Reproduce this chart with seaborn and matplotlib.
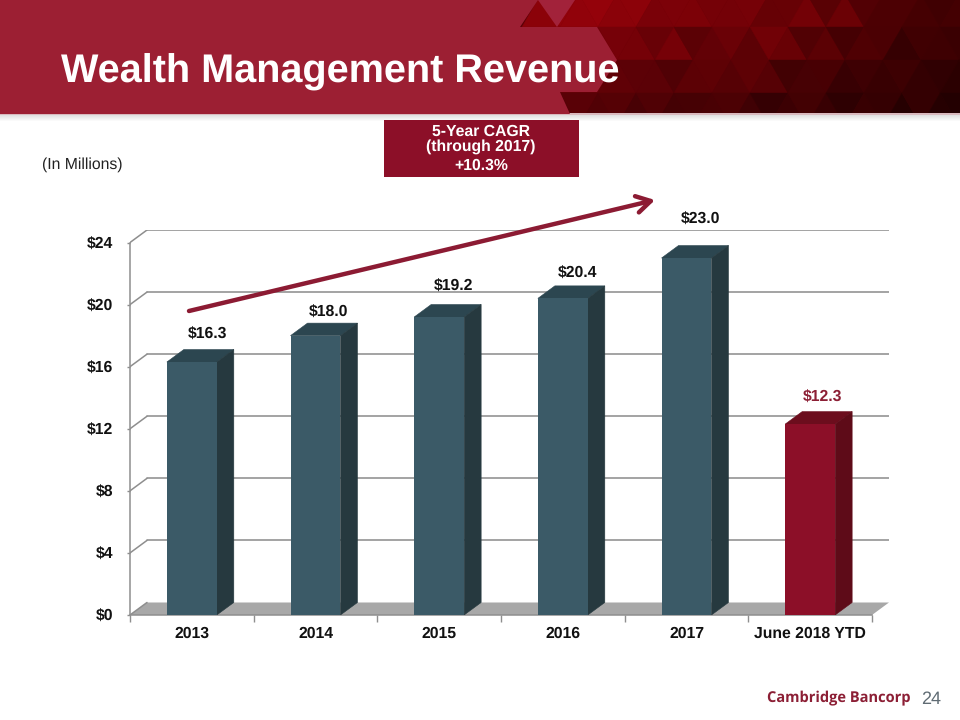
import numpy as np
import pandas as pd
import seaborn as sns
import matplotlib.pyplot as plt
from matplotlib.patches import Polygon, Rectangle

categories = ['2013', '2014', '2015', '2016', '2017', 'June 2018 YTD']
revenue = [16.3, 18.0, 19.2, 20.4, 23.0, 12.3]
value_labels = ['$16.3', '$18.0', '$19.2', '$20.4', '$23.0', '$12.3']
y_ticks = [0, 4, 8, 12, 16, 20, 24]

# separacion de cada etiqueta respecto a la barra (px)
label_dx = [16, 13, 14, 15, 14, 12]
label_dy = [15, 10, 18, 12, 26, 14]

BLUE = ('#3B5A67', '#2C4650', '#26393F')
RED = ('#8C0F28', '#6C0D1D', '#5E0B18')
CRIMSON = '#9C1F33'

# brillo de los triangulos de la cabecera, fila por fila
tones = [
    '5566665565665584844443553',
    '5555556473565884736524544',
    '5555545366677355344543333',
    '5555554544665256526526322',
]

sns.set_theme(style='white')
plt.rcParams['font.family'] = ['Liberation Sans', 'DejaVu Sans']
plt.rcParams['text.hinting'] = 'none'

fig = plt.figure(figsize=(9.6, 7.2), dpi=100, facecolor='white')

# ---- capa de fondo en pixeles (cabecera) ----
bg = fig.add_axes([0, 0, 1, 1], zorder=0)
bg.axis('off')


def header_color(x, y, tone):
    f = np.clip((x - 560) / 400, 0, 1)
    base = np.array([148, 2, 10]) * (1 - f) + np.array([72, 0, 2]) * f
    base = base * (1 - 0.42 * y / 114)
    return tuple(np.clip(base * (0.65 + tone * 0.07), 0, 255) / 255)


bg.add_patch(Rectangle((500, 0), 460, 114, color='#5A0006', zorder=1.5))
row_y = [-6, 27, 60, 93, 126]
for r, row in enumerate(tones):
    y0, y1 = row_y[r], row_y[r + 1]
    top = 541 if r % 2 == 0 else 522
    bot = 522 if r % 2 == 0 else 503
    for i, t in enumerate(row):
        k = i // 2
        if i % 2 == 0:
            pts = [(top + 38 * k, y0), (bot + 38 * k, y1), (bot + 38 * (k + 1), y1)]
        else:
            pts = [(top + 38 * k, y0), (top + 38 * (k + 1), y0), (bot + 38 * (k + 1), y1)]
        cx = np.mean([p[0] for p in pts])
        cy = np.mean([p[1] for p in pts])
        c = header_color(cx, cy, int(t))
        bg.add_patch(Polygon(pts, closed=True, lw=0.3, zorder=2, facecolor=c, edgecolor=c))

# sombra bajo la cabecera
bg.add_patch(Rectangle((0, 114), 960, 16, color='white', lw=0, zorder=2.5))
shadow = np.linspace(0.86, 1, 8).reshape(-1, 1)
bg.imshow(shadow, extent=(0, 960, 122, 114), cmap='gray', vmin=0, vmax=1, aspect='auto', zorder=2.6)
bg.set_xlim(0, 960)
bg.set_ylim(720, 0)
bg.add_patch(Rectangle((0, 113), 960, 2, color='#D9B9BE', lw=0, zorder=3))
bg.add_patch(Polygon([(0, 0), (538, 0), (520, 27), (597, 27), (617, 60), (597, 92), (560, 92),
                      (570, 114), (0, 114)], closed=True, color=CRIMSON, lw=0, zorder=4))
bg.add_patch(Polygon([(538, 0), (575, 0), (557, 27)], closed=True, color='#A2223A', lw=0, zorder=4))

bg.text(61, 72, 'Wealth Management Revenue', color='white', fontsize=28.5, fontweight='bold',
        va='center', ha='left', zorder=6)
bg.text(42, 165, '(In Millions)', color='#222222', fontsize=11.3, va='center', ha='left')

bg.add_patch(Rectangle((384, 120), 195, 57, color='#8C0F28', lw=0, zorder=3))
bg.text(481, 132, '5-Year CAGR', color='white', fontsize=11.3, fontweight='bold', ha='center', va='center', zorder=6)
bg.text(481, 147, '(through 2017)', color='white', fontsize=11.3, fontweight='bold', ha='center', va='center', zorder=6)
bg.text(481, 166, '+10.3%', color='white', fontsize=11.3, fontweight='bold', ha='center', va='center', zorder=6)

bg.text(767, 699, 'Cambridge Bancorp', color='#8C1F35', fontsize=10.5, fontweight='bold',
        family=['Open Sans', 'DejaVu Sans'], ha='left', va='center')
bg.text(921, 699, '24', color='#5F6B73', fontsize=13, ha='left', va='center')

# ---- grafico ----
ax = fig.add_axes([130 / 960, 105 / 720, 759 / 960, 385 / 720], zorder=1)
ax.patch.set_alpha(0)

df = pd.DataFrame({'year': categories, 'revenue': revenue})
palette = {c: (RED[0] if c.startswith('June') else BLUE[0]) for c in categories}
sns.barplot(data=df, x='year', y='revenue', hue='year', order=categories, palette=palette,
            width=0.404, saturation=1, legend=False, ax=ax, zorder=3, linewidth=0)
bars = list(ax.patches)

dx = 17 / 123.67   # profundidad en unidades de categoria
dy = 12.5 / 15.5   # profundidad en unidades de valor

ax.set_xlim(-0.5, 5.5 + dx)
ax.set_ylim(0, 24 + dy)

# suelo y paredes
ax.add_patch(Polygon([(-0.5, 0), (5.5, 0), (5.5 + dx, dy), (-0.5 + dx, dy)], closed=True,
                     color='#A8A8A8', lw=0, zorder=1))
for v in y_ticks:
    if v > 0:
        ax.plot([-0.5 + dx, 5.5 + dx], [v + dy, v + dy], color='#8A8A8A', lw=1.1, zorder=1)
    ax.plot([-0.5, -0.5 + dx], [v, v + dy], color='#8E8E8E', lw=1.1, zorder=1)

# caras 3D de cada barra
for bar, name, val, txt, lx, ly in zip(bars, categories, revenue, value_labels, label_dx, label_dy):
    front, top, side = RED if name.startswith('June') else BLUE
    x0, x1 = bar.get_x(), bar.get_x() + bar.get_width()
    ax.add_patch(Polygon([(x0, val), (x1, val), (x1 + dx, val + dy), (x0 + dx, val + dy)], closed=True,
                         facecolor=top, edgecolor=top, lw=0.4, zorder=2.9))
    ax.add_patch(Polygon([(x1, 0), (x1 + dx, dy), (x1 + dx, val + dy), (x1, val)], closed=True,
                         facecolor=side, edgecolor=side, lw=0.4, zorder=2.9))
    color = '#8C1F35' if name.startswith('June') else '#111111'
    ax.annotate(txt, xy=((x0 + x1) / 2, val + dy), xytext=(lx * 0.72, ly * 0.72), textcoords='offset points',
                ha='center', va='center', fontsize=11.3, fontweight='bold', color=color, zorder=5,
                annotation_clip=False)

ax.set_xlabel('')
ax.set_ylabel('')
ax.set_yticks(y_ticks)
ax.set_yticklabels(['$' + str(v) for v in y_ticks], fontsize=11.3, fontweight='bold', color='#111111')
ax.set_xticks(range(len(categories)))
ax.set_xticklabels(categories, fontsize=11.3, fontweight='bold', color='#111111')
ax.set_xticks(np.arange(-0.5, 6, 1), minor=True)
ax.tick_params(axis='x', which='major', length=0, pad=8)
ax.tick_params(axis='x', which='minor', length=5, width=1, color='#8E8E8E', bottom=True)
ax.tick_params(axis='y', length=2, width=1, color='#8E8E8E', pad=10, left=True)

sns.despine(ax=ax, top=True, right=True)
ax.spines['left'].set_bounds(0, 24)
ax.spines['bottom'].set_bounds(-0.5, 5.5)
for side_name in ['left', 'bottom']:
    ax.spines[side_name].set_color('#8E8E8E')
    ax.spines[side_name].set_linewidth(1.1)

# flecha CAGR
over = fig.add_axes([0, 0, 1, 1], zorder=2)
over.set_xlim(0, 960)
over.set_ylim(720, 0)
over.axis('off')
over.annotate('', xy=(655, 200), xytext=(189, 311),
              arrowprops=dict(arrowstyle='->,head_length=0.85,head_width=0.5', color='#8C1B33', lw=3.2,
                              shrinkA=0, shrinkB=0))

fig.savefig('out.png', dpi=100)
